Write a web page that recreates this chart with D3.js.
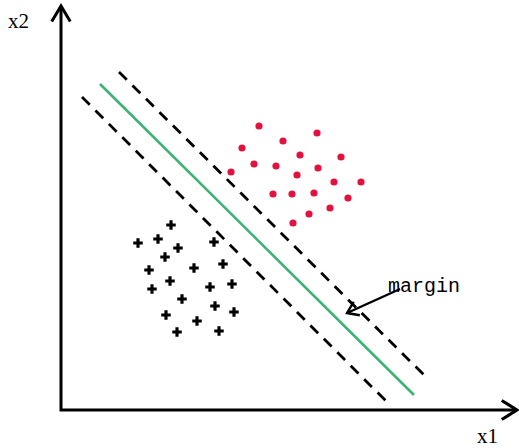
<!DOCTYPE html>
<html lang="en">
<head>
<meta charset="utf-8">
<title>SVM margin</title>
<script src="https://d3js.org/d3.v7.min.js"></script>
<style>
  body { margin: 0; background: #fff; }
  svg { display: block; }
</style>
</head>
<body>
<div id="chart"></div>
<script>
// class +1 (red dots), x1 / x2
var redX1 = [19.8, 22.2, 25.6, 18.1, 23.9, 28.0, 19.3, 21.5, 25.7, 17.0, 23.6, 27.3, 30.0, 21.2, 23.1, 25.3, 28.7, 26.9, 24.8, 23.2];
var redX2 = [28.4, 26.9, 27.7, 26.2, 25.5, 25.3, 24.6, 24.4, 24.2, 23.8, 23.5, 22.8, 22.8, 21.6, 21.6, 21.7, 21.2, 20.2, 19.6, 18.7];

// class -1 (black crosses)
var crossX1 = [11.0, 7.7, 9.7, 11.7, 10.4, 15.3, 8.8, 13.3, 16.2, 10.9, 9.1, 14.9, 17.1, 12.1, 15.4, 17.3, 10.5, 13.6, 11.6, 15.8];
var crossX2 = [18.5, 16.7, 17.1, 16.2, 15.3, 16.8, 14.0, 14.2, 14.6, 12.9, 12.1, 12.3, 12.6, 11.1, 10.4, 9.8, 9.5, 8.9, 7.8, 7.9];

// separating line and the two margin lines: [x1, x2] start, end
var hyperplane = [[3.9, 32.6], [35.3, 1.5]];
var marginUpper = [[5.8, 33.8], [36.5, 3.3]];
var marginLower = [[2.1, 31.3], [32.7, 0.7]];

// annotation
var marginLabel = "margin";
var marginArrow = [[33.9, 12.1], [28.6, 9.7]];
var axisNames = ["x1", "x2"];
var axisMax = [45.6, 40.4];

var width = 519, height = 448;

var x = d3.scaleLinear().domain([0, 45.5]).range([61, 516]);
var y = d3.scaleLinear().domain([0, 40.4]).range([410, 6]);

var svg = d3.select("#chart").append("svg")
    .attr("width", width)
    .attr("height", height);

// open "V" arrow head at the end of a segment
function arrowHead(g, p0, p1, len, ang, sw) {
  var dx = p1[0] - p0[0], dy = p1[1] - p0[1];
  var a = Math.atan2(dy, dx);
  var pts = [
    [p1[0] - len * Math.cos(a - ang), p1[1] - len * Math.sin(a - ang)],
    p1,
    [p1[0] - len * Math.cos(a + ang), p1[1] - len * Math.sin(a + ang)]
  ];
  g.append("path")
    .attr("d", d3.line()(pts))
    .attr("fill", "none")
    .attr("stroke", "#000")
    .attr("stroke-width", sw)
    .attr("stroke-linejoin", "miter");
}

// axes
var axes = svg.append("g");
var origin = [x(0), y(0)];
var xEnd = [x(axisMax[0]), y(0)];
var yEnd = [x(0), y(axisMax[1])];
axes.append("path")
    .attr("d", d3.line()([yEnd, origin, xEnd]))
    .attr("fill", "none")
    .attr("stroke", "#000")
    .attr("stroke-width", 3);
arrowHead(axes, origin, xEnd, 18, 0.56, 3);
arrowHead(axes, origin, yEnd, 18, 0.54, 3);

axes.append("text")
    .attr("x", 477).attr("y", 443)
    .style("font-family", "'Liberation Serif', 'DejaVu Serif', serif")
    .style("font-size", "21px")
    .text(axisNames[0]);
axes.append("text")
    .attr("x", 8).attr("y", 28)
    .style("font-family", "'Liberation Serif', 'DejaVu Serif', serif")
    .style("font-size", "21px")
    .text(axisNames[1]);

var line = d3.line().x(function(d) { return x(d[0]); }).y(function(d) { return y(d[1]); });

// margin lines
svg.selectAll(".margin-line")
  .data([marginUpper, marginLower])
  .enter().append("path")
    .attr("class", "margin-line")
    .attr("d", line)
    .attr("fill", "none")
    .attr("stroke", "#000")
    .attr("stroke-width", 2.8)
    .attr("stroke-dasharray", "11,8");

// separating hyperplane
svg.append("path")
    .attr("d", line(hyperplane))
    .attr("fill", "none")
    .attr("stroke", "#3cb372")
    .attr("stroke-width", 2.6);

// red points
svg.selectAll(".pos")
  .data(redX1.map(function(v, i) { return [v, redX2[i]]; }))
  .enter().append("circle")
    .attr("class", "pos")
    .attr("cx", function(d) { return x(d[0]); })
    .attr("cy", function(d) { return y(d[1]); })
    .attr("r", 3.6)
    .attr("fill", "#e2123f");

// crosses
var cross = d3.symbol().type(d3.symbolCross).size(50);
svg.selectAll(".neg")
  .data(crossX1.map(function(v, i) { return [v, crossX2[i]]; }))
  .enter().append("path")
    .attr("class", "neg")
    .attr("d", cross)
    .attr("transform", function(d) { return "translate(" + x(d[0]) + "," + y(d[1]) + ")"; })
    .attr("fill", "#000");

// margin annotation
var a0 = [x(marginArrow[0][0]), y(marginArrow[0][1])];
var a1 = [x(marginArrow[1][0]), y(marginArrow[1][1])];
svg.append("path")
    .attr("d", d3.line()([a0, a1]))
    .attr("stroke", "#000")
    .attr("stroke-width", 2.4);
arrowHead(svg, a0, a1, 13, 0.6, 2.4);

svg.append("text")
    .attr("x", x(32.7)).attr("y", y(11.8))
    .style("font-family", "'Liberation Mono', 'DejaVu Sans Mono', monospace")
    .style("font-size", "20px")
    .text(marginLabel);
</script>
</body>
</html>
